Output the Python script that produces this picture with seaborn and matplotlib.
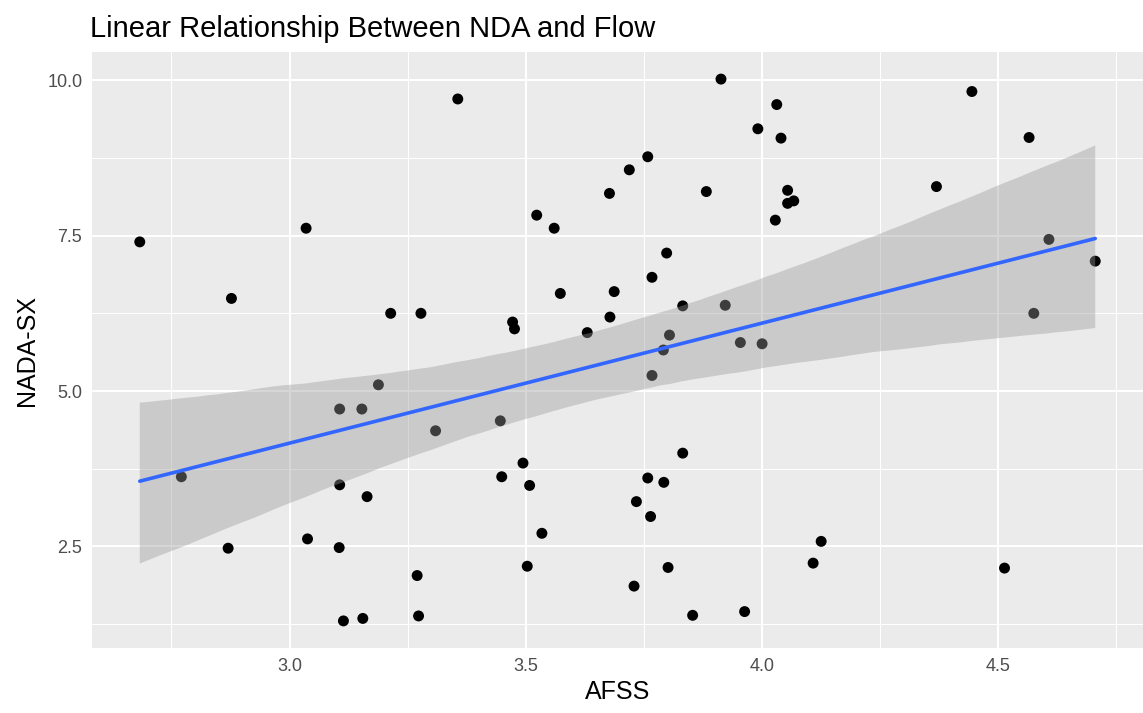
import matplotlib
matplotlib.use("Agg")
import matplotlib.pyplot as plt
import seaborn as sns
import numpy as np
import pandas as pd
from matplotlib.ticker import MultipleLocator, FormatStrFormatter

afss = [2.683, 2.877, 3.035, 3.214, 3.278, 3.356, 3.913, 3.991, 3.758, 3.719,
        3.677, 3.882, 3.523, 3.560, 3.798, 3.767, 3.573, 3.687, 3.472, 3.476,
        3.678, 3.630, 3.832, 3.922, 3.804, 3.954, 4.000, 4.031, 4.040, 4.444,
        4.565, 4.054, 4.054, 4.067, 4.028, 4.369, 4.607, 4.705, 4.575, 2.771,
        3.188, 3.106, 3.153, 3.309, 3.106, 3.164, 3.038, 2.870, 3.105, 3.270,
        3.114, 3.155, 3.273, 3.791, 3.767, 3.446, 3.494, 3.449, 3.508, 3.534,
        3.503, 3.832, 3.758, 3.792, 3.734, 3.764, 3.801, 3.729, 3.853, 3.963,
        4.125, 4.108, 4.513]
nada_sx = [7.40, 6.49, 7.62, 6.25, 6.25, 9.70, 10.02, 9.22, 8.77, 8.56,
           8.18, 8.21, 7.83, 7.62, 7.22, 6.83, 6.57, 6.60, 6.11, 6.00,
           6.19, 5.94, 6.37, 6.38, 5.90, 5.78, 5.76, 9.61, 9.07, 9.82,
           9.08, 8.23, 8.02, 8.06, 7.75, 8.29, 7.44, 7.09, 6.25, 3.62,
           5.10, 4.71, 4.71, 4.36, 3.49, 3.30, 2.62, 2.47, 2.48, 2.03,
           1.30, 1.34, 1.38, 5.66, 5.25, 4.52, 3.84, 3.62, 3.48, 2.71,
           2.18, 4.00, 3.60, 3.53, 3.22, 2.98, 2.16, 1.86, 1.39, 1.45,
           2.58, 2.23, 2.15]

title = "Linear Relationship Between NDA and Flow"
x_label = "AFSS"
y_label = "NADA-SX"

df = pd.DataFrame({"AFSS": afss, "NADA-SX": nada_sx})

sns.set_theme(style="darkgrid")
plt.rcParams["font.family"] = ["Liberation Sans", "DejaVu Sans"]

fig = plt.figure(figsize=(11.43, 7.13), dpi=100)
ax = fig.add_axes([92 / 1143, 1 - 648 / 713, 1 - 92 / 1143, (648 - 52) / 713])
ax.set_facecolor("#EBEBEB")

sns.scatterplot(data=df, x="AFSS", y="NADA-SX", ax=ax, color="black",
                s=62, edgecolor="none", linewidth=0, zorder=2)
sns.regplot(data=df, x="AFSS", y="NADA-SX", ax=ax, scatter=False, ci=95,
            n_boot=5000, seed=3,
            line_kws={"color": "#3366FF", "linewidth": 2.6, "zorder": 4},
            color="#999999")
# band drawn over the points, as in ggplot
for coll in ax.collections[1:]:
    coll.set_zorder(3)
    coll.set_alpha(0.4)
    coll.set_facecolor("#999999")
    coll.set_edgecolor("none")

# ggplot-like 5% expansion
xr = max(afss) - min(afss)
yr = max(nada_sx) - min(nada_sx)
ax.set_xlim(min(afss) - 0.05 * xr, max(afss) + 0.05 * xr)
ax.set_ylim(min(nada_sx) - 0.05 * yr, max(nada_sx) + 0.05 * yr)

ax.xaxis.set_major_locator(MultipleLocator(0.5))
ax.xaxis.set_minor_locator(MultipleLocator(0.25))
ax.yaxis.set_major_locator(MultipleLocator(2.5))
ax.yaxis.set_minor_locator(MultipleLocator(1.25))
ax.xaxis.set_major_formatter(FormatStrFormatter("%.1f"))
ax.yaxis.set_major_formatter(FormatStrFormatter("%.1f"))

ax.grid(which="major", color="white", linewidth=1.5, zorder=0)
ax.grid(which="minor", color="white", linewidth=0.75, zorder=0)
ax.set_axisbelow(True)
for s in ax.spines.values():
    s.set_visible(False)

ax.tick_params(axis="both", which="major", length=4, width=1.1, color="#333333",
               labelsize=13, labelcolor="#4D4D4D", pad=3)
ax.tick_params(axis="both", which="minor", length=0)

ax.set_xlabel(x_label, fontsize=18, color="black", labelpad=4)
ax.set_ylabel(y_label, fontsize=18, color="black", labelpad=6)
ax.set_title(title, loc="left", fontsize=21, color="black", pad=11, x=-0.002)

fig.savefig("out.png", dpi=100, facecolor="white")
